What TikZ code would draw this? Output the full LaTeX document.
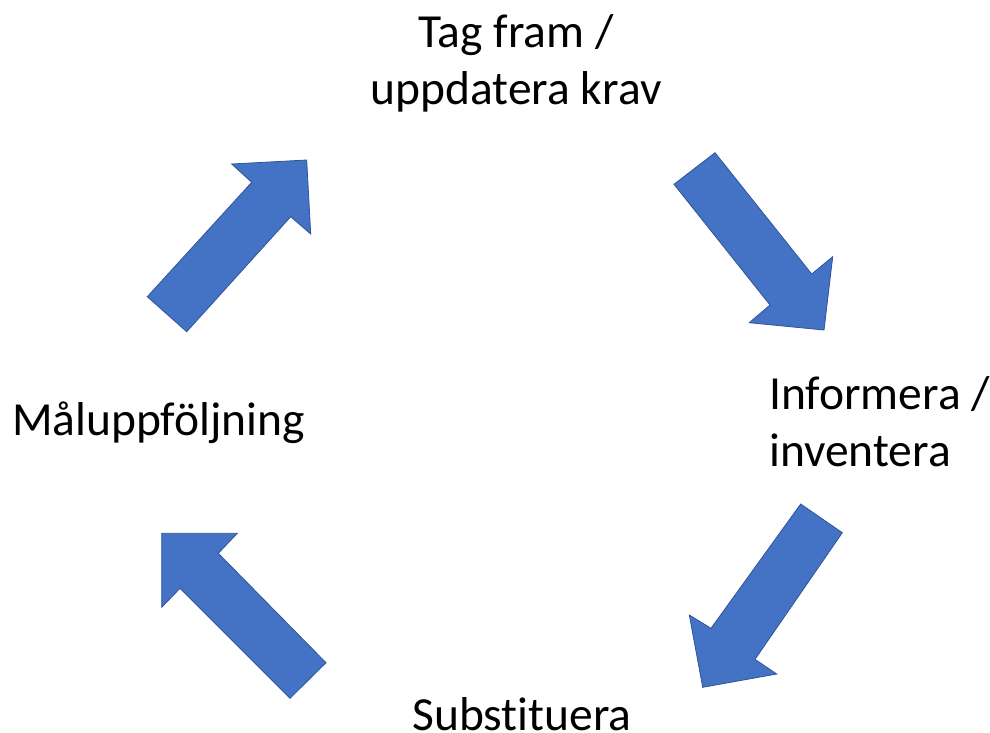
\documentclass[tikz,border=0pt]{standalone}
\usepackage{fontspec}
\setmainfont[Ligatures=NoCommon]{Carlito}
\definecolor{arrowblue}{HTML}{4472C4}
\definecolor{arrowedge}{HTML}{2F5597}
\begin{document}
\begin{tikzpicture}[x=1pt,y=-1pt,
  blockarrow/.style={fill=arrowblue,draw=arrowedge,line width=0.8pt,line join=miter},
  label/.style={inner sep=0pt,font=\fontsize{47.5}{57}\selectfont}]
\useasboundingbox (0,0) rectangle (990,732);
% up-right arrow
\draw[blockarrow] (306.7,160) -- (310.7,234) -- (290.7,216.7) -- (186.7,331.7) -- (147.3,296.7) -- (251.7,182.3) -- (231.7,164) -- cycle;
% down-right arrow
\draw[blockarrow] (824,330) -- (749.3,322.7) -- (770,305) -- (674,184.3) -- (715,152.7) -- (811.7,274) -- (832.7,256.7) -- cycle;
% down-left arrow
\draw[blockarrow] (702.7,687.3) -- (689.3,615) -- (711,628.3) -- (800.7,504) -- (842.3,532.7) -- (755,659.3) -- (776.7,674) -- cycle;
% up-left arrow
\draw[blockarrow] (161.7,533.3) -- (237.3,533.3) -- (218.3,553.3) -- (326,662.7) -- (290,698.3) -- (180,588.3) -- (161.7,607.3) -- cycle;
\node[label,anchor=base,align=center] (tag) at (516,104) {Tag fram /\\uppdatera krav};
\node[label,anchor=base west,align=left] (inf) at (769,466) {Informera /\\inventera};
\node[label,anchor=base] (sub) at (522,730.5) {Substituera};
\node[label,anchor=base west] (mal) at (12,435) {Måluppföljning};
\end{tikzpicture}
\end{document}
